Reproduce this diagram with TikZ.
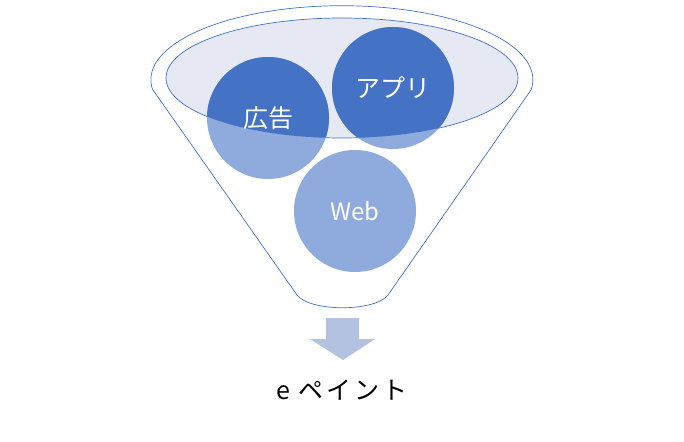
\documentclass[tikz,border=0pt]{standalone}
\usepackage{fontspec}
\setmainfont{Noto Sans CJK JP}
\definecolor{funnelblue}{HTML}{4472C4}
\definecolor{lightblue}{HTML}{8FAADC}
\definecolor{rimfill}{HTML}{E6E9F4}
\definecolor{arrowblue}{HTML}{B4C2E2}

\begin{document}
\begin{tikzpicture}[x=1pt,y=-1pt,
    rimline/.style={draw=funnelblue,line width=0.7pt},
    bubble/.style={circle,fill=lightblue,minimum size=122pt,inner sep=0pt,
        text=white,font=\fontsize{25}{28}\selectfont,
        path picture={\fill[funnelblue] (rim) ellipse [x radius=176pt,y radius=60pt];}}]
    \useasboundingbox (0,0) rectangle (684,441);

    \coordinate (tl) at (153,90);
    \coordinate (tr) at (531,90);
    \coordinate (bl) at (297,295);
    \coordinate (br) at (388,295);
    \coordinate (rim) at (342,78);

    \draw[rimline] (tl) -- (bl) .. controls (310,312) and (375,312) .. (br) -- (tr)
        arc [start angle=8, end angle=-188, x radius=191, y radius=74];
    \draw[rimline,fill=rimfill] (rim) ellipse [x radius=176, y radius=60];

    \node[bubble] (ad) at (268,118) {広告};
    \node[bubble] (app) at (393,88) {アプリ};
    \node[bubble,font=\fontsize{24}{28}\selectfont] (web) at (355,211) {Web};

    \fill[arrowblue] (326,318) -- (359,318) -- (359,339) -- (375,339)
        -- (343,360) -- (310,339) -- (326,339) -- cycle;
    \node[font=\fontsize{25}{28}\selectfont\addfontfeatures{LetterSpace=12}] (out) at (342,390) {e ペイント};
\end{tikzpicture}
\end{document}
